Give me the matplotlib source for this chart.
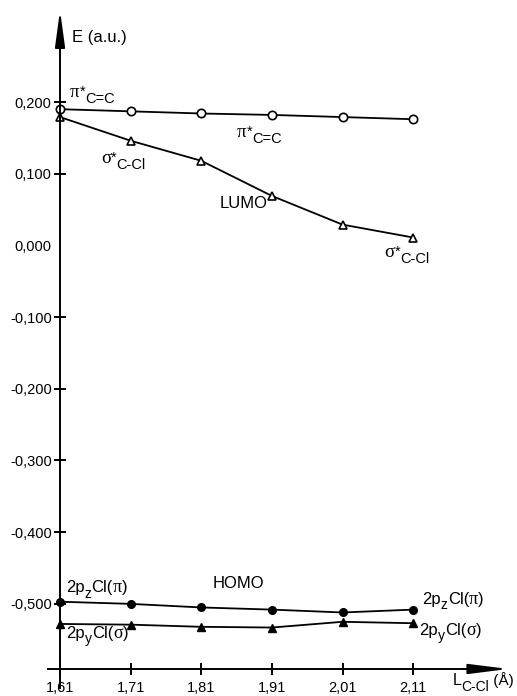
import matplotlib
matplotlib.use("Agg")
import matplotlib.pyplot as plt
import numpy as np

plt.rcParams['font.family'] = ['Liberation Sans', 'DejaVu Sans']

# bond length C-Cl (A)
L = [1.61, 1.71, 1.81, 1.91, 2.01, 2.11]
# orbital energies (a.u.)
pi_cc = [0.190, 0.187, 0.184, 0.182, 0.179, 0.176]
sigma_ccl = [0.179, 0.146, 0.118, 0.069, 0.029, 0.011]
pz_cl = [-0.497, -0.500, -0.505, -0.508, -0.512, -0.508]
py_cl = [-0.528, -0.529, -0.532, -0.533, -0.525, -0.527]

yticks = [-0.5, -0.4, -0.3, -0.2, -0.1, 0.0, 0.1, 0.2]

fig = plt.figure(figsize=(5.17, 6.96), dpi=100)
ax = fig.add_axes([0, 0, 1, 1])
ax.set_xlim(1.525, 2.257)
ax.set_ylim(-0.6285, 0.3423)
ax.patch.set_visible(False)

lw = 1.3
ax.plot(L, pi_cc, color='k', lw=lw, marker='o', ms=6, mfc='white', mec='k', mew=1.2)
ax.plot(L, sigma_ccl, color='k', lw=lw, marker='^', ms=6, mfc='white', mec='k', mew=1.2)
ax.plot(L, pz_cl, color='k', lw=lw, marker='o', ms=5.5, mfc='k', mec='k')
ax.plot(L, py_cl, color='k', lw=lw, marker='^', ms=5.5, mfc='k', mec='k')

# axes through the origin, with arrows
for s in ['top', 'right']:
    ax.spines[s].set_visible(False)
ax.spines['left'].set_position(('data', 1.61))
ax.spines['bottom'].set_position(('data', -0.5908))
ax.spines['left'].set_bounds(-0.6175, 0.30)
ax.spines['bottom'].set_bounds(1.593, 2.21)
ax.spines['left'].set_linewidth(1.4)
ax.spines['bottom'].set_linewidth(1.4)
ax.annotate('', xy=(1.61, 0.328), xytext=(1.61, 0.28),
            arrowprops=dict(arrowstyle='-|>,head_length=2.2,head_width=0.3',
                            mutation_scale=10, color='k', lw=1.4, shrinkA=0, shrinkB=0))
ax.annotate('', xy=(2.245, -0.5908), xytext=(2.18, -0.5908),
            arrowprops=dict(arrowstyle='-|>,head_length=2.4,head_width=0.3',
                            mutation_scale=10, color='k', lw=1.4, shrinkA=0, shrinkB=0))

ax.set_xticks(L)
ax.set_xticklabels([f'{v:.2f}'.replace('.', ',') for v in L])
ax.set_yticks(yticks)
ax.set_yticklabels([f'{v:.3f}'.replace('.', ',') for v in yticks])
ax.tick_params(direction='inout', length=8, width=1.4, labelsize=10.5, colors='k')
ax.tick_params(axis='x', pad=5)
ax.tick_params(axis='y', pad=2)
for t, v in zip(ax.yaxis.get_major_ticks(), yticks):
    if v == 0.0:
        t.tick1line.set_visible(False)

renderer = fig.canvas.get_renderer()
SERIF = ['Liberation Serif', 'DejaVu Serif']
SANS = ['Liberation Sans', 'DejaVu Sans']
fs = 12


def label(x, y, parts):
    # parts: (text, fontsize, baseline shift in points, family)
    dx = 0.0
    for s, size, dy, fam in parts:
        t = ax.annotate(s, xy=(x, y), xytext=(dx, dy), textcoords='offset points',
                        fontsize=size, family=fam, va='baseline', ha='left')
        dx += t.get_window_extent(renderer).width * 72 / fig.dpi


def star_label(x, y, greek, sub):
    label(x, y, [(greek, 13.5, 0, SERIF), ('*', 10.5, 1, SANS), (sub, 10.5, -4.5, SANS)])


def cl_label(x, y, orb, greek):
    label(x, y, [('2p', fs, 0, SANS), (orb, 10, -4, SANS), ('Cl(', fs, 0, SANS),
                 (greek, 13, 0, SERIF), (')', fs, 0, SANS)])


ax.text(1.627, 0.2837, 'E (a.u.)', fontsize=fs, va='baseline', ha='left')
star_label(1.6242, 0.2070, 'π', 'C=C')
star_label(1.668, 0.1150, 'σ', 'C-Cl')
ax.text(1.8366, 0.0522, 'LUMO', fontsize=fs, va='baseline', ha='left')
star_label(1.8604, 0.1512, 'π', 'C=C')
star_label(2.069, -0.0161, 'σ', 'C-Cl')
ax.text(1.8267, -0.4778, 'HOMO', fontsize=fs, va='baseline', ha='left')
cl_label(1.6185, -0.4834, 'z', 'π')
cl_label(1.6185, -0.5475, 'y', 'σ')
cl_label(2.1227, -0.5000, 'z', 'π')
cl_label(2.1185, -0.5433, 'y', 'σ')
label(2.166, -0.6135, [('L', 11.5, 0, SANS), ('C-Cl', 10, -4, SANS), (' (Å)', 11, 0, SANS)])

fig.savefig('out.png', dpi=100)
